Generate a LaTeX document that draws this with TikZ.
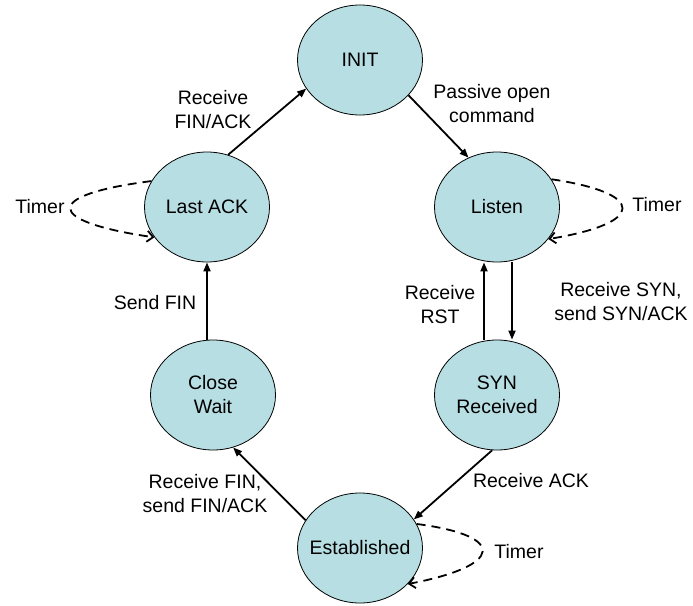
\documentclass[tikz,border=0pt]{standalone}
\usepackage{fontspec}
\setmainfont{Liberation Sans}
\usetikzlibrary{arrows.meta,shapes.geometric}
\definecolor{statefill}{RGB}{183,222,226}
\begin{document}
\begin{tikzpicture}[x=1pt,y=-1pt,
  font=\fontsize{19.5}{24}\selectfont,
  state/.style={ellipse,draw=black,line width=0.8pt,fill=statefill,
    minimum width=125pt,minimum height=110pt,inner sep=0pt},
  lbl/.style={align=center,inner sep=0pt},
  trans/.style={line width=1.8pt,-{Triangle[length=9pt,width=7pt]}},
  loopy/.style={line width=1.8pt,dash pattern=on 9pt off 6pt,
    -{Straight Barb[length=6pt,width=11pt]}}]
\useasboundingbox (0,0) rectangle (693,605);

% states
\node[state,label={[lbl]center:INIT}] (init) at (360,60) {};
\node[state,label={[lbl]center:Listen}] (listen) at (497,207) {};
\node[state,label={[lbl]center:SYN\\Received}] (syn) at (497,395) {};
\node[state,label={[lbl]center:Established}] (est) at (360,548) {};
\node[state,label={[lbl]center:Close\\Wait}] (close) at (213,395) {};
\node[state,label={[lbl]center:Last ACK}] (last) at (207,207) {};

% transitions
\draw[trans] (init.-36) -- (listen.120);
\draw[trans] ([xshift=15pt]listen.south) -- ([xshift=15pt]syn.north);
\draw[trans] ([xshift=-13pt]syn.north) -- ([xshift=-13pt]listen.south);
\draw[trans] (syn.-95) -- (est.28);
\draw[trans] (est.153) -- (close.-69);
\draw[trans] (close.north -| last) -- (last.south);
\draw[trans] (last.68) -- (init.208);

% timer self-loops
\draw[loopy] (listen.27) .. controls +(95,14) and +(98,-16) .. (listen.-32);
\draw[loopy] (last.155) .. controls +(-110,14) and +(-110,-16) .. (last.210);
\draw[loopy] (est.23) .. controls +(92,12) and +(95,-18) .. (est.-37);

% transition labels
\node[lbl] (lpassive) at (492,104) {Passive open\\command};
\node[lbl] (lfinack) at (213,110) {Receive\\FIN/ACK};
\node[lbl] (lrst) at (440,305) {Receive\\RST};
\node[lbl] (lsyn) at (621,302) {Receive SYN,\\send SYN/ACK};
\node[lbl] (lsendfin) at (155,303) {Send FIN};
\node[lbl] (lrecvfin) at (205,494) {Receive FIN,\\send FIN/ACK};
\node[lbl] (lack) at (531,481) {Receive ACK};
\node[lbl] (tlast) at (40,207) {Timer};
\node[lbl] (tlisten) at (657,205) {Timer};
\node[lbl] (test) at (519,552) {Timer};
\end{tikzpicture}
\end{document}
